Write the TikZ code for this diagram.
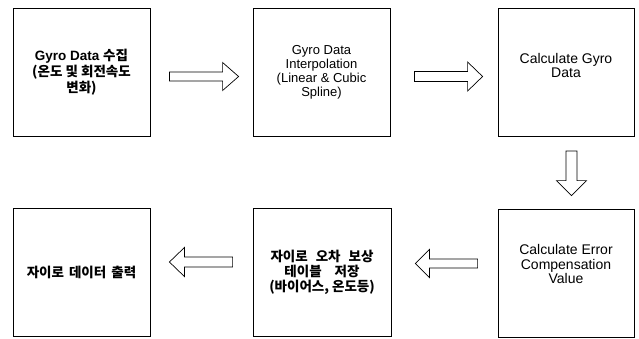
\documentclass[tikz,border=0pt]{standalone}
\usepackage{fontspec}
\setmainfont{Liberation Sans}
\newfontfamily\kr{Noto Sans CJK KR}
\usetikzlibrary{calc}
% #1 start, #2 tip, #3 shaft half width, #4 head half width, #5 head length
\newcommand{\blockarrow}[5]{%
  \coordinate (#1h) at ($(#2)!#5!(#1)$);
  \draw[blk] ($(#1)!#3!90:(#2)$) -- ($(#1h)!#3!90:(#2)$) -- ($(#1h)!#4!90:(#2)$) -- (#2)
    -- ($(#1h)!#4!-90:(#2)$) -- ($(#1h)!#3!-90:(#2)$) -- ($(#1)!#3!-90:(#2)$) -- cycle;}
\begin{document}
\begin{tikzpicture}[x=1pt,y=-1pt,
  box/.style={draw, line width=0.8pt, minimum width=137, minimum height=128, inner sep=0pt,
    align=center, font=\fontsize{13.5}{16}\selectfont},
  txt/.style={align=center, font=\fontsize{14}{14.5}\selectfont},
  blk/.style={draw, line width=0.7pt, fill=white, line join=miter}]
\useasboundingbox (0,0) rectangle (639,338);

\node[box] (b1) at (81.5,72) {{\bfseries Gyro Data {\kr 수집}}\\{\kr\bfseries (온도 및 회전속도}\\{\kr\bfseries 변화)}};
\node[box, font=\fontsize{13}{14}\selectfont] (b2) at (321.5,72) {Gyro Data\\Interpolation\\(Linear \& Cubic\\Spline)};
\node[box, minimum width=136, label={[txt, name=t3, yshift=7pt]center:Calculate Gyro\\Data}] (b3) at (566,72.5) {};
\node[box, minimum width=136, label={[txt, name=t6, yshift=9pt]center:Calculate Error\\Compensation\\Value}] (b6) at (566,273) {};
\node[box, minimum width=138, font=\fontsize{13.5}{15}\selectfont] (b5) at (322,272)
  {{\kr\bfseries 자이로\hspace{8pt}오차\hspace{8pt}보상}\\{\kr\bfseries 테이블\hspace{13pt}저장}\\{\kr\bfseries (바이어스,\hspace{3pt}온도등)}};
\node[box] (b4) at (81.5,272) {{\kr\bfseries 자이로\hspace{5pt}데이터\hspace{5pt}출력}};

\coordinate (a1s) at ($(b1.east)+(19,4.5)$);
\coordinate (a1t) at ($(b2.west)+(-14,4.5)$);
\coordinate (a2s) at ($(b2.east)+(24,4.5)$);
\coordinate (a2t) at ($(b3.west)+(-15,4)$);
\coordinate (a3s) at ($(b3.south)+(5.5,14)$);
\coordinate (a3t) at ($(b6.north)+(5.5,-13)$);
\coordinate (a4s) at ($(b6.west)+(-20,-9.5)$);
\coordinate (a4t) at ($(b5.east)+(24,-8.5)$);
\coordinate (a5s) at ($(b5.west)+(-20,-10)$);
\coordinate (a5t) at ($(b4.east)+(19,-10)$);

\blockarrow{a1s}{a1t}{4.5pt}{14pt}{16pt}
\blockarrow{a2s}{a2t}{5pt}{14.5pt}{15pt}
\blockarrow{a3s}{a3t}{5.5pt}{15pt}{15pt}
\blockarrow{a4s}{a4t}{4.5pt}{14pt}{14pt}
\blockarrow{a5s}{a5t}{5pt}{14.5pt}{15pt}
\end{tikzpicture}
\end{document}
